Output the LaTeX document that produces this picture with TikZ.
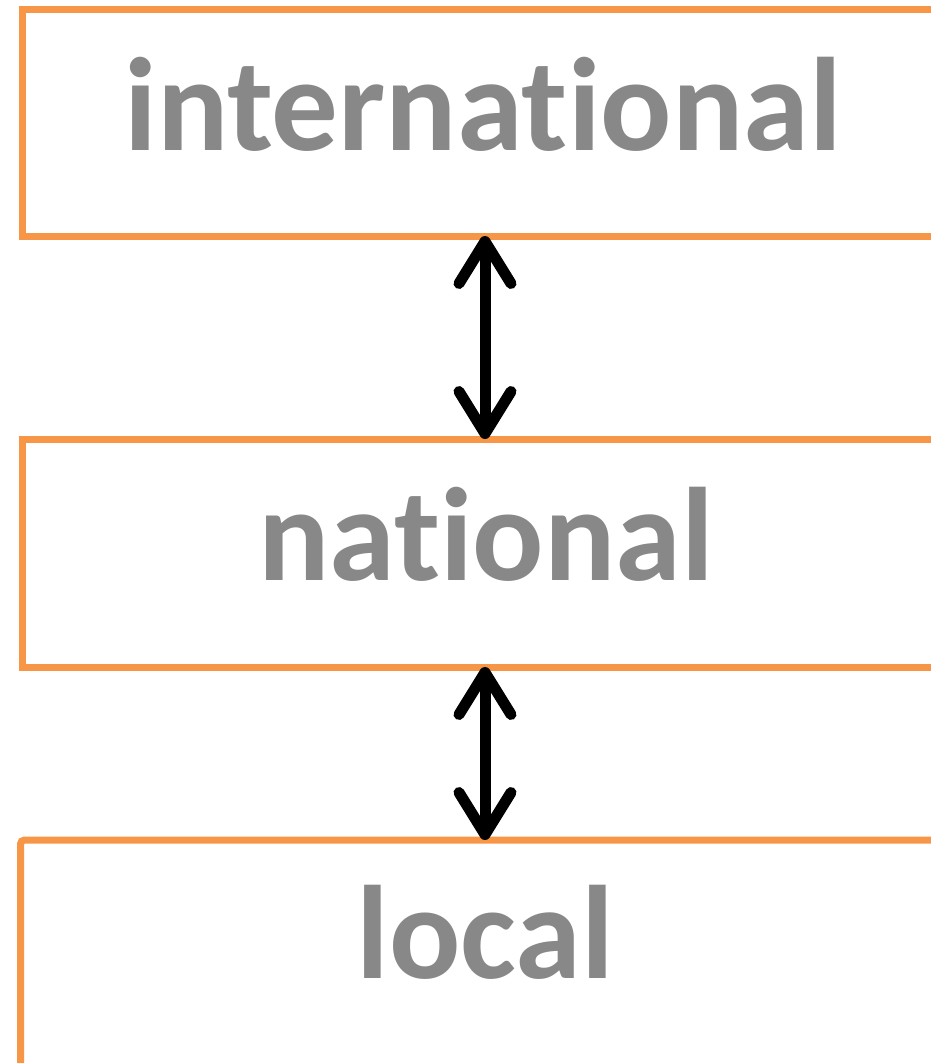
\documentclass[tikz,border=0pt]{standalone}
\usepackage{fontspec}
\setmainfont[Ligatures={NoCommon,NoDiscretionary,NoRequired,NoContextual}]{Carlito}
\usetikzlibrary{arrows.meta}
\definecolor{boxorange}{HTML}{F79646}
\definecolor{labelgray}{HTML}{888888}
\begin{document}
\begin{tikzpicture}[x=1pt,y=-1pt,
  levelbox/.style={draw=boxorange,line width=7pt,anchor=north west,inner sep=0pt,outer sep=0pt},
  leveltext/.style={text=labelgray,font=\fontsize{133}{133}\selectfont\bfseries,anchor=base,inner sep=0pt},
  link/.style={line width=11pt,{Straight Barb[length=42pt,width=52pt,round]}-{Straight Barb[length=42pt,width=52pt,round]}}]
\useasboundingbox (0,0) rectangle (931,1063);
\clip (0,0) rectangle (931,1063);
\node[levelbox,minimum width=940pt,minimum height=227pt] (b1) at (22.5,9) {};
\node[levelbox,minimum width=940pt,minimum height=228pt] (b2) at (22.5,439) {};
\node[levelbox,minimum width=940pt,minimum height=300pt,rounded corners=4pt] (b3) at (20.5,840) {};
\node[leveltext] (t1) at (483,150) {international};
\node[leveltext] (t2) at (486,580) {national};
\node[leveltext] (t3) at (485,978) {local};
\coordinate (ax) at (485,0);
\draw[link] (b1.south -| ax) -- (b2.north -| ax);
\draw[link] (b2.south -| ax) -- (b3.north -| ax);
\end{tikzpicture}
\end{document}
